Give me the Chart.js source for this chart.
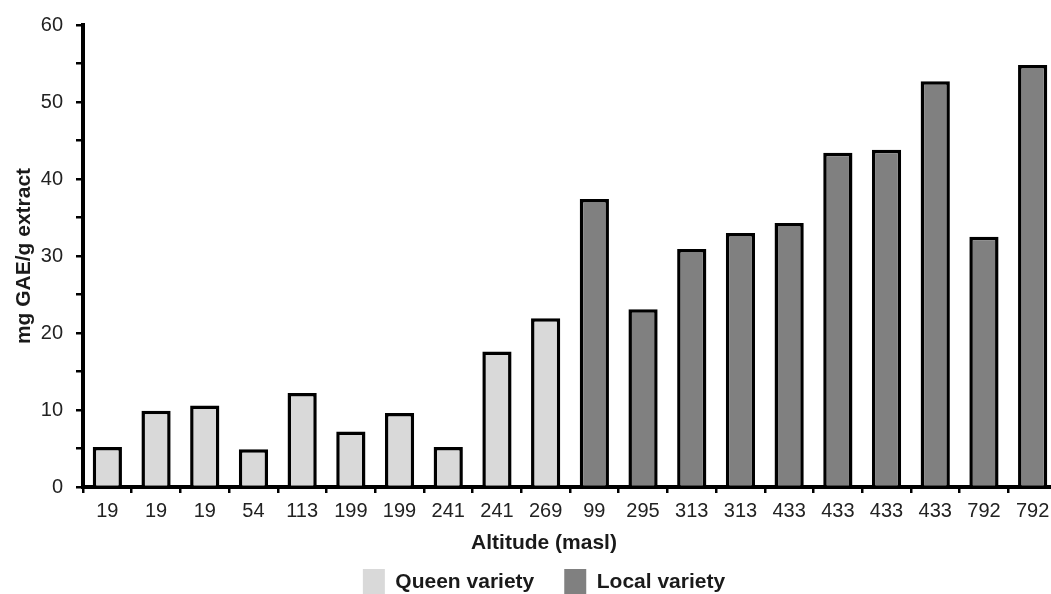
<!DOCTYPE html>
<html>
<head>
<meta charset="utf-8">
<script src="https://cdn.jsdelivr.net/npm/chart.js@4.4.0/dist/chart.umd.min.js"></script>
<style>
  html, body { margin: 0; padding: 0; overflow: hidden; background: #fff; }
  #wrap { width: 1088px; height: 605px; }
</style>
</head>
<body>
<div id="wrap"><canvas id="chart1"></canvas></div>
<script>
// altitude (masl) of each sample, in plot order
const altitudes = ['19', '19', '19', '54', '113', '199', '199', '241', '241', '269',
                   '99', '295', '313', '313', '433', '433', '433', '433', '792', '792'];
// mg GAE/g extract
const queenValues = [5.2, 9.9, 10.6, 4.9, 12.2, 7.2, 9.6, 5.2, 17.6, 21.9];
const localValues = [37.4, 23.1, 30.9, 33.0, 34.3, 43.4, 43.8, 52.7, 32.5, 54.8];
const yMin = 0, yMax = 60, yStep = 5, yLabelStep = 10;

const blanks = n => Array(n).fill(null);
const queenData = queenValues.concat(blanks(localValues.length));
const localData = blanks(queenValues.length).concat(localValues);

const font = 'Liberation Sans, Arial, sans-serif';
Chart.defaults.font.family = font;
Chart.defaults.color = '#222';

const ctx1 = document.getElementById('chart1');
const graphData = {
  labels: altitudes,
  datasets: [{
    label: 'Queen variety',
    data: queenData,
    backgroundColor: '#d9d9d9',
    borderColor: '#000',
    borderWidth: 3.5,
    grouped: false,
    categoryPercentage: 1,
    barPercentage: 0.6
  },
  {
    label: 'Local variety',
    data: localData,
    backgroundColor: '#808080',
    borderColor: '#000',
    borderWidth: 3.5,
    grouped: false,
    categoryPercentage: 1,
    barPercentage: 0.6
  }]
};

const defaultLabels = Chart.defaults.plugins.legend.labels.generateLabels;

const options = {
  responsive: true,
  maintainAspectRatio: false,
  animation: false,
  layout: { padding: { top: 24, left: 0, right: 0, bottom: 0 } },
  scales: {
    x: {
      grid: { drawOnChartArea: false, drawTicks: true, tickLength: 6, color: '#000', lineWidth: 2.5, offset: true },
      border: { color: '#000', width: 4 },
      ticks: { font: { size: 20 }, color: '#222', padding: 6, maxRotation: 0, autoSkip: false },
      afterFit: s => { s.height = 40; }
    },
    y: {
      min: yMin,
      max: yMax,
      grid: { drawOnChartArea: false, tickLength: 7, color: '#000', lineWidth: 2.5 },
      border: { color: '#000', width: 4 },
      ticks: {
        stepSize: yStep,
        font: { size: 20 },
        color: '#222',
        padding: 13,
        callback: v => (v % yLabelStep === 0 ? v : '')
      },
      title: {
        display: true,
        text: 'mg GAE/g extract',
        font: { size: 21, weight: 'bold' },
        color: '#1a1a1a',
        padding: { top: 11.4, bottom: 0 }
      },
      afterFit: s => { s.width = 83; }
    },
    // empty right axis, only to leave room so the plot runs off the page like the original
    y2: {
      type: 'linear',
      position: 'right',
      grid: { display: false },
      border: { display: false },
      ticks: { display: false },
      afterFit: s => { s.width = 31; }
    }
  },
  plugins: {
    tooltip: { enabled: false },
    title: {
      display: true,
      position: 'bottom',
      text: 'Altitude (masl)',
      weight: 500,
      font: { size: 21, weight: 'bold' },
      color: '#1a1a1a',
      padding: { top: 3.4, bottom: -16.6 }
    },
    legend: {
      position: 'bottom',
      labels: {
        boxWidth: 22,
        boxHeight: 26,
        padding: 30,
        font: { size: 21, weight: 'bold' },
        color: '#1a1a1a',
        generateLabels: chart => defaultLabels(chart).map(l => ({ ...l, lineWidth: 0, strokeStyle: 'rgba(0,0,0,0)' }))
      }
    }
  }
};

const phenolChart = new Chart(ctx1, {
  type: 'bar',
  data: graphData,
  options: options
});
</script>
</body>
</html>
